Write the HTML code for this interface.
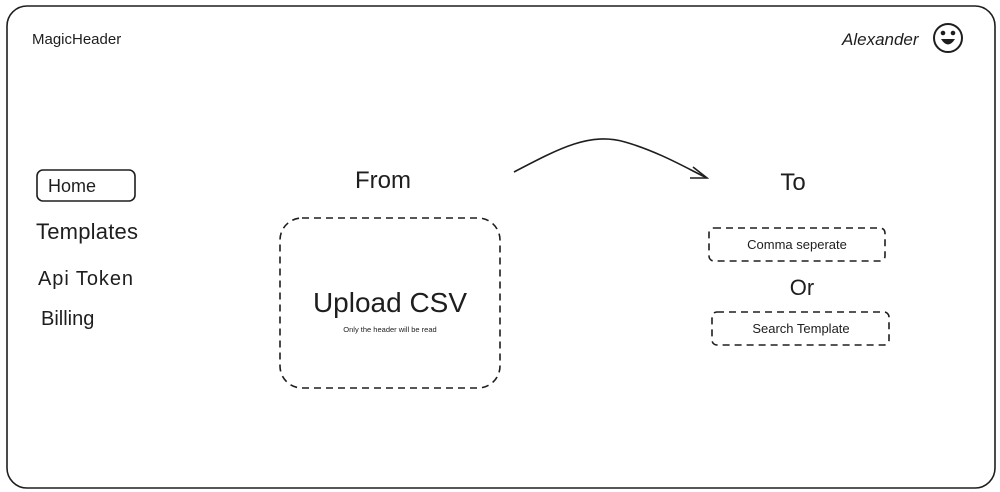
<!DOCTYPE html>
<html><head><meta charset="utf-8"><style>
html,body{margin:0;padding:0;background:#fff;}
svg{display:block}
text{font-family:"Liberation Sans",sans-serif;fill:#1e1e1e;}
</style></head><body>
<svg width="1000" height="492" viewBox="0 0 1000 492" xmlns="http://www.w3.org/2000/svg">
<rect x="7" y="6" width="988" height="482" rx="20" fill="#fff" stroke="#1e1e1e" stroke-width="1.6"/>
<text x="32" y="44" font-size="15">MagicHeader</text>
<text x="842" y="45" font-size="17" font-style="italic">Alexander</text>
<circle cx="948" cy="38" r="14" fill="#fff" stroke="#1e1e1e" stroke-width="2"/>
<circle cx="943" cy="33" r="2.3" fill="#1e1e1e"/><circle cx="953" cy="33" r="2.3" fill="#1e1e1e"/>
<path d="M941 39 Q948 50 955 39 Z" fill="#1e1e1e"/>
<rect x="37" y="170" width="98" height="31" rx="6" fill="none" stroke="#1e1e1e" stroke-width="1.6"/>
<text x="48" y="192" font-size="18">Home</text>
<text x="36" y="239" font-size="22" textLength="102">Templates</text>
<text x="38" y="285" font-size="20" textLength="95">Api Token</text>
<text x="41" y="325" font-size="20">Billing</text>
<text x="383" y="188" font-size="24" text-anchor="middle">From</text>
<text x="793" y="190" font-size="24" text-anchor="middle">To</text>
<path d="M514 172 C560 148 590 132 625 142 C660 152 690 170 707 178" fill="none" stroke="#1e1e1e" stroke-width="1.6"/>
<path d="M693 167 L707 178 L690 178" fill="none" stroke="#1e1e1e" stroke-width="1.6"/>
<rect x="280" y="218" width="220" height="170" rx="22" fill="none" stroke="#1e1e1e" stroke-width="1.6" stroke-dasharray="7 5"/>
<text x="390" y="312" font-size="28" text-anchor="middle">Upload CSV</text>
<text x="390" y="332" font-size="7.5" text-anchor="middle">Only the header will be read</text>
<rect x="709" y="228" width="176" height="33" rx="5" fill="none" stroke="#1e1e1e" stroke-width="1.6" stroke-dasharray="7 5"/>
<text x="797" y="249" font-size="13" text-anchor="middle">Comma seperate</text>
<text x="802" y="295" font-size="22" text-anchor="middle">Or</text>
<rect x="712" y="312" width="177" height="33" rx="5" fill="none" stroke="#1e1e1e" stroke-width="1.6" stroke-dasharray="7 5"/>
<text x="801" y="333" font-size="13" text-anchor="middle">Search Template</text>
</svg>
</body></html>
